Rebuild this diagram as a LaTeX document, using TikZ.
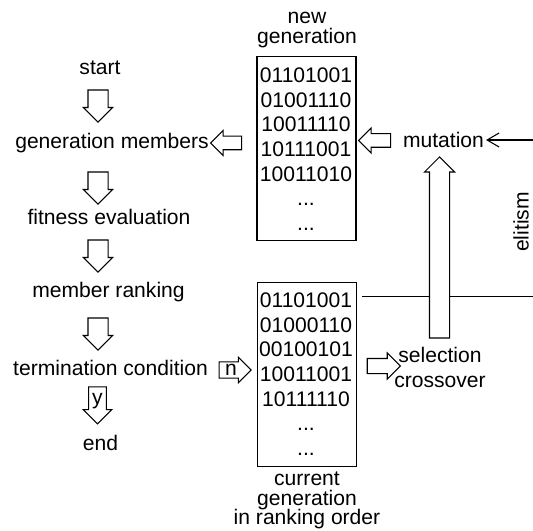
\documentclass[tikz,border=0pt]{standalone}
\usepackage{fontspec}
\setmainfont{Liberation Sans}
\usetikzlibrary{shapes.arrows,arrows.meta}
\begin{document}
\begin{tikzpicture}[
      txt/.style={font=\fontsize{12}{14}\selectfont, inner sep=1pt},
      lab/.style={font=\fontsize{12}{11.2}\selectfont, align=center, inner sep=0pt},
      pool/.style={draw, line width=0.6pt, minimum width=1.98cm, minimum height=3.68cm},
      bits/.style={font=\fontsize{12}{14}\selectfont, anchor=base},
      blk/.style={single arrow, draw, fill=white, line width=0.6pt,
                  single arrow tip angle=90, single arrow head indent=0pt},
      dnarrow/.style={blk, shape border rotate=270, minimum height=0.64cm,
                      inner sep=0.19cm, single arrow head extend=0.09cm},
      ltarrow/.style={blk, shape border rotate=180, minimum height=0.62cm,
                      inner sep=0.125cm, single arrow head extend=0.115cm},
      rtarrow/.style={blk, minimum height=0.66cm,
                      inner sep=0.14cm, single arrow head extend=0.11cm},
      linea/.style={line width=0.6pt}
    ]
    \useasboundingbox (0,0) rectangle (10.66,-10.60);

    % flow of the algorithm
    \node[txt] (start) at (2.00,-1.36) {start};
    \node[dnarrow] (a1) at (1.96,-2.02) {};
    \node[txt] (members) at (2.24,-2.86) {generation members};
    \node[dnarrow] (a2) at (1.96,-3.66) {};
    \node[txt] (fitness) at (2.18,-4.34) {fitness evaluation};
    \node[dnarrow] (a3) at (1.96,-5.02) {};
    \node[txt] (ranking) at (2.17,-5.84) {member ranking};
    \node[dnarrow] (a4) at (1.96,-6.58) {};
    \node[txt] (term) at (2.21,-7.36) {termination condition};
    \node[blk, shape border rotate=270, minimum height=0.74cm, inner xsep=0.06cm,
          inner ysep=0.03cm, single arrow head extend=0.11cm,
          font=\fontsize{12}{14}\selectfont] (yes) at (1.95,-8.02) {y};
    \node[txt] (end) at (2.01,-8.86) {end};

    % new generation
    \node[lab] (newlab) at (6.14,-0.60) {new\\ generation};
    \node[pool] (newgen) at (6.13,-2.97) {};
    \node[bits] (n1) at (6.12,-1.654) {01101001};
    \node[bits] (n2) at (6.12,-2.146) {01001110};
    \node[bits] (n3) at (6.12,-2.638) {10011110};
    \node[bits] (n4) at (6.12,-3.130) {10111001};
    \node[bits] (n5) at (6.12,-3.622) {10011010};
    \node[bits] (n6) at (6.12,-4.114) {...};
    \node[bits] (n7) at (6.12,-4.606) {...};
    \node[ltarrow] (toback) at (4.59,-2.86) {};

    % current generation
    \node[pool] (curgen) at (6.14,-7.49) {};
    \node[bits] (c1) at (6.12,-6.154) {01101001};
    \node[bits] (c2) at (6.12,-6.646) {01000110};
    \node[bits] (c3) at (6.12,-7.138) {00100101};
    \node[bits] (c4) at (6.12,-7.630) {10011001};
    \node[bits] (c5) at (6.12,-8.122) {10111110};
    \node[bits] (c6) at (6.12,-8.614) {...};
    \node[bits] (c7) at (6.12,-9.106) {...};
    \node[lab] (curlab) at (6.14,-10.01) {current\\ generation\\ in ranking order};
    \node[blk, minimum height=0.64cm, inner xsep=0.04cm, inner ysep=0.04cm,
          single arrow head extend=0.09cm,
          font=\fontsize{12}{14}\selectfont] (no) at (4.62,-7.40) {n};

    % operators
    \node[txt] (mut) at (8.87,-2.80) {mutation};
    \node[ltarrow, minimum height=0.64cm] (tomut) at (7.56,-2.81) {};
    \node[txt, align=center] (sel) at (8.80,-7.35) {selection\\ crossover};
    \node[rtarrow] (tosel) at (7.60,-7.32) {};
    \node[txt, rotate=90] (elit) at (10.42,-4.44) {elitism};

    \coordinate (turn) at (10.75,-2.80);
    \draw[linea, -{Straight Barb[length=0.24cm, width=0.28cm]}]
      ([shift={(0.08,0.08)}]c1.east) -| (turn) -- (mut.east);
    \node[blk, shape border rotate=90, minimum height=3.62cm,
          inner sep=0.19cm, single arrow head extend=0.10cm] (up) at (8.79,-5.05) {};
  \end{tikzpicture}
\end{document}
